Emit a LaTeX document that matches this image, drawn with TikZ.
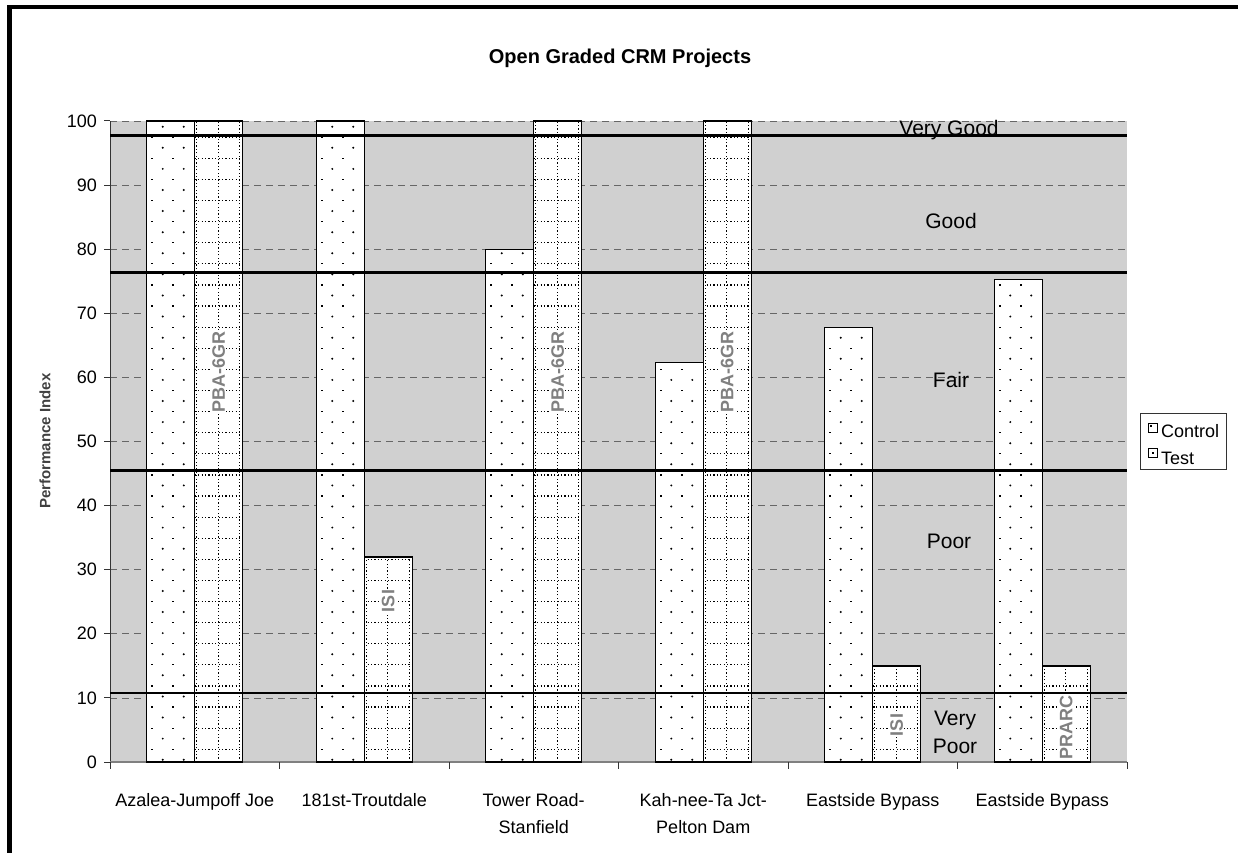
\documentclass[tikz,border=0pt]{standalone}
\usepackage{fontspec}
\setmainfont{Liberation Sans}
\definecolor{plotbg}{RGB}{208,208,208}
\definecolor{tagtext}{RGB}{128,128,128}

\begin{document}
\begin{tikzpicture}[x=1pt,y=1pt,
  grid/.style={draw=black!60, line width=0.8pt, dash pattern=on 7pt off 5pt},
  bar/.style={draw=black, line width=1.3pt},
  band/.style={line width=2.6pt},
  dotline/.style={line width=1.2pt, dash pattern=on 1.2pt off 2.2pt},
  tick/.style={font=\fontsize{18}{20}\selectfont, anchor=east, inner sep=0pt},
  cat/.style={font=\fontsize{18}{27}\selectfont, align=center, anchor=north, inner sep=0pt},
  zone/.style={font=\fontsize{21}{28}\selectfont, align=center, inner sep=0pt},
  tag/.style={font=\fontsize{18}{20}\selectfont\bfseries, text=tagtext, fill=white, rotate=90, inner sep=1pt},
]
\useasboundingbox (-110,-90) rectangle (1128,762);
\draw[line width=4.3pt] (-100.5,-100) -- (-100.5,755) -- (1140,755);

\fill[plotbg] (0,0) rectangle (1017,641);
\foreach \v in {10,20,...,100}
  \draw[grid] (0,6.41*\v) -- (1017,6.41*\v);
\draw[black!80, line width=1pt] (0,0) -- (0,641);
\foreach \v in {0,10,...,100} {
  \draw[black!80, line width=1pt] (-6,6.41*\v) -- (0,6.41*\v);
  \node[tick] (t\v) at (-13,6.41*\v) {\v};
}
\draw[black!50, line width=1.5pt] (0,0) -- (1017,0);
\foreach \i in {0,...,6}
  \draw[black!80, line width=1pt] (169.5*\i,0) -- (169.5*\i,-7);

% control = dots, test = dotted grid
\foreach \i/\c/\t in {0/100/100, 1/100/32, 2/80/100, 3/62.3/100, 4/67.8/15, 5/75.3/15} {
  \pgfmathsetmacro\xl{169.5*\i+36.75}
  \pgfmathsetmacro\xm{169.5*\i+84.75}
  \pgfmathsetmacro\xr{169.5*\i+132.75}
  \fill[white] (\xl,0) rectangle (\xm,6.41*\c);
  \begin{scope}
    \clip (\xl,0) rectangle (\xm,6.41*\c);
    \foreach \k in {0,...,30} {
      \fill (\xl+16,635.3-21.1*\k) circle (1.1);
      \fill (\xl+37,635.3-21.1*\k) circle (1.1);
      \fill (\xl+4.5,624.1-21.1*\k) rectangle ++(2,1.2);
      \fill (\xl+25.5,624.1-21.1*\k) rectangle ++(2,1.2);
    }
  \end{scope}
  \draw[bar] (\xl,0) rectangle (\xm,6.41*\c);
  \fill[white] (\xm,0) rectangle (\xr,6.41*\t);
  \begin{scope}
    \clip (\xm,0) rectangle (\xr,6.41*\t);
    \foreach \k in {0,...,30}
      \draw[dotline] (\xm,624.7-21.1*\k) -- (\xr,624.7-21.1*\k);
    \foreach \d in {2,23.5,45}
      \draw[dotline] (\xm+\d,0) -- (\xm+\d,641);
  \end{scope}
  \draw[bar] (\xm,0) rectangle (\xr,6.41*\t);
}

\node[tag] (tag1) at (108.75,390) {PBA-6GR};
\node[tag] (tag2) at (278.25,161) {ISI};
\node[tag] (tag3) at (447.75,390) {PBA-6GR};
\node[tag] (tag4) at (617.25,390) {PBA-6GR};
\node[tag] (tag5) at (786.75,37) {ISI};
\node[tag] (tag6) at (956.25,35) {PRARC};

\foreach \v in {97.7,76.4,45.5,10.75}
  \draw[band] (0,6.41*\v) -- (1017,6.41*\v);

\node[zone, anchor=base] (vgood) at (839,626.3) {Very Good};
\node[zone] (good) at (841,541) {Good};
\node[zone] (fair) at (841,382) {Fair};
\node[zone] (poor) at (839,221) {Poor};
\node[zone] (vpoor) at (845,30) {Very\\Poor};

\node[font=\fontsize{20}{24}\selectfont\bfseries] (title) at (510,704) {Open Graded CRM Projects};
\node[font=\fontsize{15}{18}\selectfont\bfseries, text=black!75, rotate=90] (ylab) at (-65,321) {Performance Index};

\node[cat] (c1) at (84.75,-31) {Azalea-Jumpoff Joe};
\node[cat] (c2) at (254.25,-31) {181st-Troutdale};
\node[cat] (c3) at (423.75,-31) {Tower Road-\\Stanfield};
\node[cat] (c4) at (593.25,-31) {Kah-nee-Ta Jct-\\Pelton Dam};
\node[cat] (c5) at (762.75,-31) {Eastside Bypass};
\node[cat] (c6) at (932.25,-31) {Eastside Bypass};

\draw[black!80, line width=0.8pt] (1030,293) rectangle (1116,349);
\draw[line width=0.8pt] (1038,330) rectangle (1047,339);
\fill (1040,335.5) rectangle ++(2,2);
\draw[line width=0.8pt] (1038,305) rectangle (1047,314);
\fill (1041.5,308.5) rectangle ++(2,2);
\node[anchor=base west, inner sep=0pt, font=\fontsize{18}{20}\selectfont] (lctrl) at (1051,325) {Control};
\node[anchor=base west, inner sep=0pt, font=\fontsize{18}{20}\selectfont] (ltest) at (1051,298) {Test};
\end{tikzpicture}
\end{document}
